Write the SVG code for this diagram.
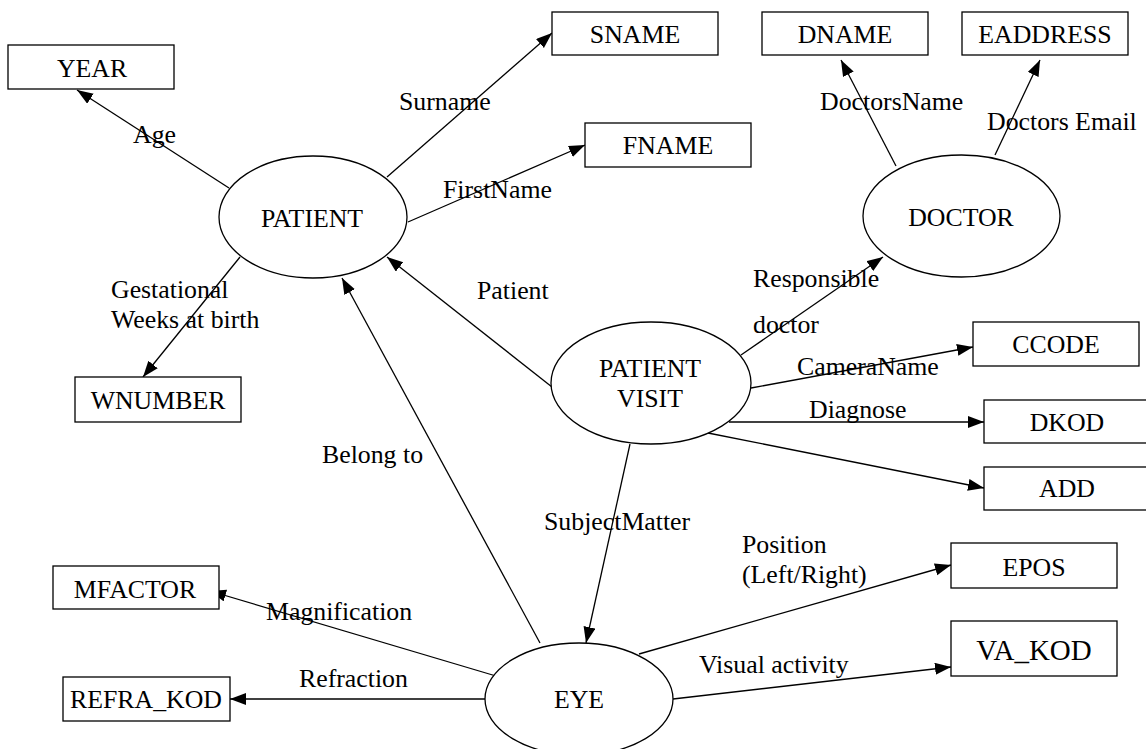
<svg xmlns="http://www.w3.org/2000/svg" width="1146" height="749" viewBox="0 0 1146 749">
  <style>
    text { font-family: "Liberation Serif", "Times New Roman", serif; font-size: 25.8px; fill: #000; }
    .c { text-anchor: middle; }
    .box { fill: #fff; stroke: #000; stroke-width: 1.3; }
    .ent { fill: #fff; stroke: #000; stroke-width: 1.3; }
    .edge { stroke: #000; stroke-width: 1.3; fill: none; marker-end: url(#arrow); }
  </style>
  <defs>
    <marker id="arrow" markerUnits="userSpaceOnUse" markerWidth="17" markerHeight="13" refX="16" refY="6" orient="auto">
      <path d="M0,0 L16,6 L0,12 z" fill="#000"/>
    </marker>
  </defs>
  <rect width="1146" height="749" fill="#fff"/>

  <!-- relationships -->
  <g id="connectors">
    <line class="edge" x1="229" y1="188" x2="77" y2="90"/>
    <line class="edge" x1="387" y1="177" x2="552" y2="33"/>
    <line class="edge" x1="408" y1="222" x2="585" y2="145"/>
    <line class="edge" x1="896" y1="166" x2="841" y2="60"/>
    <line class="edge" x1="995" y1="155" x2="1040" y2="60"/>
    <line class="edge" x1="240" y1="257" x2="143" y2="377"/>
    <line class="edge" x1="552" y1="387" x2="387" y2="257"/>
    <line class="edge" x1="540" y1="643" x2="342" y2="278"/>
    <line class="edge" x1="741" y1="355" x2="883" y2="257"/>
    <line class="edge" x1="751" y1="388" x2="973" y2="347"/>
    <line class="edge" x1="729" y1="422" x2="984" y2="422"/>
    <line class="edge" x1="708" y1="433" x2="984" y2="488"/>
    <line class="edge" x1="630" y1="444" x2="586" y2="643"/>
    <line class="edge" x1="639" y1="654" x2="951" y2="565"/>
    <line class="edge" x1="673" y1="699" x2="951" y2="667"/>
    <line class="edge" x1="496" y1="676" x2="210" y2="591"/>
    <line class="edge" x1="485" y1="699" x2="230" y2="699"/>

    <text x="133" y="143">Age</text>
    <text x="399" y="110">Surname</text>
    <text x="443" y="198">FirstName</text>
    <text x="820" y="110">DoctorsName</text>
    <text x="987" y="130">Doctors Email</text>
    <text x="111" y="298">Gestational</text>
    <text x="111" y="328">Weeks at birth</text>
    <text x="477" y="299">Patient</text>
    <text x="322" y="463">Belong to</text>
    <text x="753" y="287">Responsible</text>
    <text x="753" y="333">doctor</text>
    <text x="797" y="375">CameraName</text>
    <text x="809" y="418">Diagnose</text>
    <text x="544" y="530">SubjectMatter</text>
    <text x="742" y="553">Position</text>
    <text x="742" y="583">(Left/Right)</text>
    <text x="699" y="673">Visual activity</text>
    <text x="266" y="620">Magnification</text>
    <text x="299" y="687">Refraction</text>
  </g>

  <!-- entities -->
  <g id="patient">
    <ellipse class="ent" cx="313" cy="217" rx="94" ry="61"/>
    <text class="c" x="312" y="227">PATIENT</text>
  </g>
  <g id="doctor">
    <ellipse class="ent" cx="961.5" cy="216" rx="98.5" ry="61"/>
    <text class="c" x="961" y="226">DOCTOR</text>
  </g>
  <g id="patient-visit">
    <ellipse class="ent" cx="651" cy="383" rx="100" ry="61"/>
    <text class="c" x="650" y="377">PATIENT</text>
    <text class="c" x="650" y="407">VISIT</text>
  </g>
  <g id="eye">
    <ellipse class="ent" cx="579" cy="699" rx="94" ry="56"/>
    <text class="c" x="579" y="708">EYE</text>
  </g>

  <!-- attributes -->
  <g id="year">
    <rect class="box" x="8" y="45" width="166" height="44"/>
    <text class="c" x="92" y="77">YEAR</text>
  </g>
  <g id="sname">
    <rect class="box" x="552" y="12" width="166" height="43"/>
    <text class="c" x="635" y="43">SNAME</text>
  </g>
  <g id="dname">
    <rect class="box" x="762" y="12" width="166" height="43"/>
    <text class="c" x="845" y="43">DNAME</text>
  </g>
  <g id="eaddress">
    <rect class="box" x="962" y="12" width="166" height="43"/>
    <text class="c" x="1045" y="43">EADDRESS</text>
  </g>
  <g id="fname">
    <rect class="box" x="585" y="123" width="166" height="44"/>
    <text class="c" x="668" y="154">FNAME</text>
  </g>
  <g id="wnumber">
    <rect class="box" x="75" y="377" width="166" height="45"/>
    <text class="c" x="158" y="409">WNUMBER</text>
  </g>
  <g id="ccode">
    <rect class="box" x="973" y="322" width="166" height="44"/>
    <text class="c" x="1056" y="353">CCODE</text>
  </g>
  <g id="dkod">
    <rect class="box" x="984" y="400" width="166" height="43"/>
    <text class="c" x="1067" y="431">DKOD</text>
  </g>
  <g id="add">
    <rect class="box" x="984" y="467" width="166" height="43"/>
    <text class="c" x="1067" y="497">ADD</text>
  </g>
  <g id="epos">
    <rect class="box" x="951" y="543" width="166" height="45"/>
    <text class="c" x="1034" y="576">EPOS</text>
  </g>
  <g id="va-kod">
    <rect class="box" x="951" y="621" width="166" height="55"/>
    <text class="c" x="1034" y="660" style="font-size:29px">VA_KOD</text>
  </g>
  <g id="mfactor">
    <rect class="box" x="53" y="566" width="166" height="43"/>
    <text class="c" x="135" y="598">MFACTOR</text>
  </g>
  <g id="refra-kod">
    <rect class="box" x="63" y="677" width="167" height="44"/>
    <text class="c" x="146" y="708">REFRA_KOD</text>
  </g>
</svg>
